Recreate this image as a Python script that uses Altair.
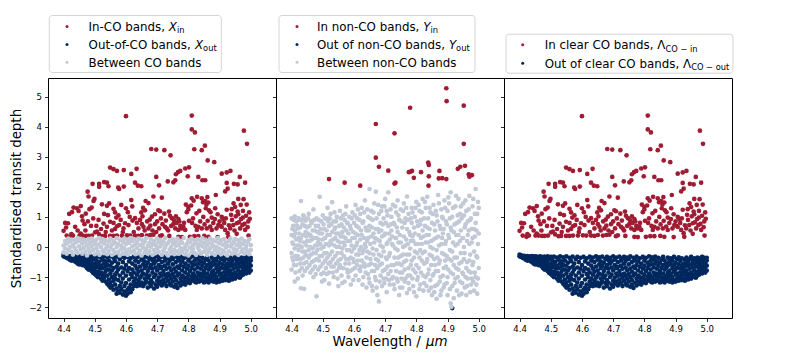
import altair as alt
import pandas as pd

RED = "#a01c33"
NAVY = "#00285e"
GRAY = "#c1c9d7"
FONT = "DejaVu Sans"

# ---------------- data (wavelength in micron, standardised depth) ----------------
# In-CO bands (shared by panel 1 and panel 3)
in_co = [
    (4.600, 4.35), (4.811, 4.37), (4.811, 3.91), (4.821, 3.81), (4.978, 3.87), (4.988, 3.43),
    (4.681, 3.26), (4.697, 3.24), (4.723, 3.22), (4.743, 3.05), (4.819, 3.25), (4.843, 3.22),
    (4.853, 3.37), (4.862, 2.88), (4.883, 2.82),
    (4.549, 2.64), (4.560, 2.59), (4.571, 2.53), (4.593, 2.56), (4.617, 2.43), (4.634, 2.60),
    (4.697, 2.33), (4.774, 2.53), (4.767, 2.49), (4.760, 2.42), (4.790, 2.61), (4.802, 2.65),
    (4.798, 2.35), (4.832, 2.33), (4.845, 2.22), (4.854, 2.22), (4.907, 2.44), (4.923, 2.48),
    (4.935, 2.53), (4.965, 2.33), (4.982, 2.14), (4.946, 2.10), (4.958, 2.08),
    (4.493, 2.10), (4.514, 2.10), (4.514, 2.00), (4.530, 2.16), (4.539, 2.14), (4.544, 2.02),
    (4.477, 1.84), (4.480, 1.68), (4.578, 1.93), (4.593, 2.01), (4.575, 1.98),
    (4.629, 2.14), (4.638, 2.04), (4.649, 2.02), (4.706, 2.05), (4.734, 2.18), (4.752, 2.15),
    (4.758, 2.22), (4.923, 2.13), (4.926, 1.94), (4.918, 1.85),
    (4.811, 1.62), (4.861, 1.66), (4.888, 1.73), (4.854, 1.53), (4.960, 1.60), (4.977, 1.59),
    (4.987, 1.41), (4.499, 1.60), (4.496, 1.53), (4.523, 1.42), (4.539, 1.37), (4.546, 1.45),
    (4.443, 1.29), (4.455, 1.36), (4.448, 1.20), (4.483, 1.26), (4.490, 1.31), (4.471, 1.11),
    (4.459, 1.02), (4.560, 1.27), (4.565, 1.15), (4.576, 1.05), (4.569, 0.98),
    (4.600, 1.29), (4.606, 1.16), (4.617, 1.56), (4.663, 1.53), (4.672, 1.46), (4.661, 1.22),
    (4.649, 1.15), (4.653, 1.02), (4.688, 1.68), (4.715, 1.64), (4.704, 1.22), (4.709, 1.19),
    (4.693, 1.09), (4.683, 1.01), (4.676, 0.91), (4.723, 1.11), (4.738, 1.18), (4.741, 1.04),
    (4.747, 0.96), (4.754, 0.89), (4.768, 0.93), (4.771, 0.85), (4.792, 1.41), (4.800, 1.34),
    (4.800, 1.25), (4.795, 1.16), (4.802, 0.87), (4.858, 1.41), (4.864, 1.48), (4.856, 1.29),
    (4.866, 1.22), (4.871, 1.16), (4.875, 0.98), (4.862, 0.87), (4.886, 1.29), (4.894, 1.09),
    (4.907, 1.00), (4.912, 0.93), (4.923, 1.24), (4.939, 1.26), (4.950, 1.33), (4.960, 1.09),
    (4.969, 0.93), (4.985, 1.04), (4.997, 0.94), (4.992, 0.85),
    (4.400, 0.54), (4.408, 0.65), (4.414, 0.79), (4.418, 1.10), (4.427, 1.16), (4.432, 1.31),
    (4.437, 0.67), (4.461, 0.88), (4.467, 0.76), (4.809, 1.38), (4.817, 1.54), (4.828, 1.67),
    (4.843, 1.62), (4.847, 1.49),
    (4.422, 0.34), (4.425, 0.43), (4.451, 0.38), (4.461, 0.38), (4.472, 0.37), (4.480, 0.37),
    (4.491, 0.38), (4.501, 0.49), (4.507, 0.51), (4.514, 0.42), (4.525, 0.36), (4.533, 0.37),
    (4.539, 0.67), (4.549, 0.84), (4.542, 1.06), (4.560, 0.80), (4.571, 0.69), (4.578, 0.73),
    (4.549, 0.37), (4.560, 0.37), (4.571, 0.38), (4.587, 0.38), (4.603, 0.39), (4.614, 0.38),
    (4.629, 0.38), (4.640, 0.37), (4.651, 0.40), (4.667, 0.38), (4.678, 0.40), (4.688, 0.41),
    (4.709, 0.36), (4.715, 0.39), (4.739, 0.37), (4.768, 0.34), (4.779, 0.33),
    (4.592, 0.62), (4.597, 0.79), (4.608, 0.73), (4.621, 0.88), (4.629, 0.96),
    (4.640, 0.62), (4.651, 0.76), (4.656, 0.67), (4.672, 0.62), (4.678, 0.71),
    (4.693, 0.76), (4.706, 0.62), (4.717, 0.76), (4.725, 0.67), (4.731, 0.62),
    (4.752, 0.76), (4.758, 0.62), (4.768, 0.57), (4.779, 0.62), (4.784, 0.67), (4.790, 0.57),
    (4.827, 0.57), (4.832, 0.67), (4.843, 0.62), (4.859, 0.62), (4.870, 0.68), (4.875, 0.57),
    (4.896, 0.73), (4.907, 0.67), (4.918, 0.57), (4.926, 0.46), (4.934, 0.62), (4.944, 0.73),
    (4.955, 0.79), (4.966, 0.62), (4.973, 0.73), (4.982, 0.57), (4.993, 0.38),
    (4.805, 0.34), (4.819, 0.36), (4.832, 0.36), (4.851, 0.37), (4.864, 0.34), (4.894, 0.33),
    (4.928, 0.34), (4.955, 0.44),
    (4.880, 0.80), (4.885, 0.93), (4.890, 0.62), (4.900, 0.85), (4.903, 0.70), (4.915, 0.80),
    (4.920, 0.95), (4.930, 0.72), (4.940, 0.90), (4.948, 0.55), (4.952, 1.02), (4.962, 0.82),
    (4.975, 0.98), (4.980, 0.77), (4.990, 0.66), (4.995, 1.15), (4.937, 1.07), (4.958, 1.18),
    (4.968, 1.40), (4.945, 1.45), (4.975, 1.20),
    (4.812, 0.80), (4.815, 0.95), (4.823, 0.70), (4.838, 0.85), (4.848, 1.00), (4.852, 0.75),
    (4.826, 1.12), (4.835, 1.20),
    (4.700, 0.85), (4.712, 0.95), (4.728, 0.88), (4.735, 0.55), (4.745, 0.70), (4.762, 0.80),
    (4.774, 0.70), (4.786, 0.80), (4.760, 1.02),
    (4.612, 1.00), (4.625, 0.50), (4.635, 0.80), (4.645, 0.90), (4.660, 0.55), (4.668, 0.85),
    (4.685, 0.55), (4.697, 0.50), (4.620, 1.35), (4.655, 1.30),
    (4.505, 0.70), (4.512, 0.90), (4.520, 0.60), (4.528, 0.78), (4.535, 0.50), (4.555, 0.55),
    (4.565, 0.60), (4.583, 0.90), (4.590, 0.50), (4.530, 1.10), (4.585, 1.40),
    (4.405, 0.80), (4.430, 0.38), (4.445, 0.55), (4.455, 0.45), (4.470, 0.55), (4.478, 0.85),
    (4.488, 0.70), (4.495, 0.95), (4.410, 0.38),
]

# Out-of-CO bands (shared by panel 1 and panel 3): (wavelength, [depths])
out_co = [
    (4.400, [-0.25, -0.31]), (4.405, [-0.28, -0.33]), (4.410, [-0.30, -0.36]),
    (4.415, [-0.29, -0.38, -0.33]), (4.420, [-0.31, -0.42]), (4.425, [-0.30, -0.36, -0.45]),
    (4.430, [-0.33, -0.41]), (4.435, [-0.31, -0.47, -0.38]), (4.440, [-0.35, -0.50, -0.30]),
    (4.445, [-0.42, -0.33, -0.55]), (4.450, [-0.31, -0.47, -0.58]), (4.455, [-0.37, -0.52, -0.32]),
    (4.460, [-0.44, -0.60, -0.34]), (4.465, [-0.31, -0.55, -0.48]), (4.470, [-0.39, -0.64, -0.33]),
    (4.475, [-0.46, -0.58, -0.70]), (4.480, [-0.32, -0.52, -0.75, -0.41]),
    (4.485, [-0.62, -0.36, -0.70]), (4.490, [-0.45, -0.80, -0.31, -0.58]),
    (4.495, [-0.68, -0.38, -0.86]), (4.500, [-0.33, -0.55, -0.77, -0.90]),
    (4.505, [-0.44, -0.66, -0.95]), (4.510, [-0.32, -0.83, -0.58, -1.00]),
    (4.515, [-0.49, -0.72, -0.90]), (4.520, [-0.35, -0.62, -1.05, -0.85]),
    (4.525, [-0.42, -0.95, -0.70, -1.12]), (4.530, [-0.31, -0.55, -0.88, -1.02]),
    (4.535, [-0.66, -0.48, -1.15, -0.80]), (4.540, [-0.34, -0.95, -0.60, -1.22]),
    (4.545, [-0.75, -0.45, -1.08, -1.28]), (4.550, [-0.31, -0.88, -0.62, -1.18, -1.35]),
    (4.555, [-0.52, -1.00, -0.78, -1.30]), (4.560, [-0.36, -1.12, -0.70, -1.42]),
    (4.565, [-0.92, -0.47, -1.25, -1.05]), (4.570, [-0.32, -0.65, -1.38, -0.85, -1.55]),
    (4.575, [-0.55, -1.10, -1.48, -0.75]), (4.580, [-0.40, -0.95, -1.30, -1.52]),
    (4.585, [-0.68, -1.18, -0.33, -1.40]), (4.590, [-0.50, -0.85, -1.05, -1.58]),
    (4.595, [-0.36, -0.72, -1.30, -1.48]), (4.600, [-0.60, -0.95, -1.20, -1.62]),
    (4.605, [-0.33, -0.80, -1.42, -1.55]), (4.610, [-0.48, -1.08, -0.70, -1.35]),
    (4.615, [-0.90, -0.38, -1.25, -1.50]), (4.620, [-0.55, -1.00, -0.75, -1.40]),
    (4.625, [-0.32, -0.85, -1.15, -1.30]), (4.630, [-0.62, -1.05, -0.45, -1.22]),
    (4.635, [-0.92, -0.35, -1.30, -0.72]), (4.640, [-0.50, -1.12, -0.82, -1.20]),
    (4.645, [-0.31, -0.65, -1.02, -1.28]), (4.650, [-0.78, -0.42, -1.18, -0.95]),
    (4.655, [-0.58, -1.30, -0.88, -0.34]), (4.660, [-1.05, -0.70, -0.48, -1.22]),
    (4.665, [-0.32, -0.92, -1.15, -0.62]), (4.670, [-0.80, -1.35, -0.52, -1.02]),
    (4.675, [-0.40, -1.20, -0.70, -0.95]), (4.680, [-1.10, -0.60, -0.33, -1.30]),
    (4.685, [-0.85, -0.45, -1.18, -0.72]), (4.690, [-0.55, -1.00, -1.38, -0.36]),
    (4.695, [-0.92, -0.68, -1.25, -0.48]), (4.700, [-0.31, -0.78, -1.12, -1.32]),
    (4.705, [-0.60, -1.02, -0.42, -1.22]), (4.710, [-0.88, -0.35, -1.15, -0.70]),
    (4.715, [-0.50, -1.28, -0.95, -0.66]), (4.720, [-0.32, -0.80, -1.08, -1.22]),
    (4.725, [-0.62, -1.18, -0.45, -0.92]), (4.730, [-1.02, -0.72, -0.38, -1.30]),
    (4.735, [-0.55, -0.88, -1.12, -0.33]), (4.740, [-0.68, -1.22, -0.95, -0.46]),
    (4.745, [-0.35, -1.05, -0.78, -1.28]), (4.750, [-0.58, -0.90, -1.15, -0.40]),
    (4.755, [-0.72, -1.32, -1.00, -0.31]), (4.760, [-0.50, -1.10, -0.82, -1.25]),
    (4.765, [-0.36, -0.95, -0.65, -1.36]), (4.770, [-0.88, -1.18, -0.45, -0.70]),
    (4.775, [-0.60, -1.05, -0.32, -1.28]), (4.780, [-0.78, -1.15, -0.48, -0.95]),
    (4.785, [-0.38, -1.00, -0.66, -1.22]), (4.790, [-0.85, -0.55, -1.10, -1.25]),
    (4.795, [-0.33, -0.72, -1.02, -1.18]), (4.800, [-0.62, -0.92, -1.15, -0.45]),
    (4.805, [-0.80, -1.08, -0.36, -1.20]), (4.810, [-0.52, -0.98, -1.12, -0.70]),
    (4.815, [-0.31, -0.88, -1.05, -0.60]), (4.820, [-0.75, -1.15, -0.45, -0.95]),
    (4.825, [-0.58, -1.02, -0.34, -1.18]), (4.830, [-0.85, -1.10, -0.68, -0.42]),
    (4.835, [-0.95, -0.55, -1.15, -0.32]), (4.840, [-0.72, -1.05, -0.48, -0.88]),
    (4.845, [-0.36, -0.98, -1.12, -0.62]), (4.850, [-0.80, -1.18, -0.52, -0.92]),
    (4.855, [-0.42, -1.02, -0.70, -1.15]), (4.860, [-0.88, -0.60, -1.10, -0.33]),
    (4.865, [-0.75, -1.00, -0.45, -1.18]), (4.870, [-0.95, -0.55, -1.12, -0.68]),
    (4.875, [-0.35, -0.85, -1.05, -0.62]), (4.880, [-0.78, -1.15, -0.48, -0.95]),
    (4.885, [-0.58, -1.08, -0.38, -0.88]), (4.890, [-1.00, -0.70, -1.18, -0.45]),
    (4.895, [-0.82, -0.33, -1.10, -0.60]), (4.900, [-0.92, -0.52, -1.15, -0.75]),
    (4.905, [-0.40, -1.05, -0.68, -0.88]), (4.910, [-0.98, -0.58, -1.12, -0.34]),
    (4.915, [-0.72, -1.02, -0.46, -0.85]), (4.920, [-0.95, -0.62, -1.10, -0.38]),
    (4.925, [-0.55, -0.82, -1.05, -0.70]), (4.930, [-0.90, -0.42, -1.12, -0.65]),
    (4.935, [-0.35, -0.78, -1.00, -0.55]), (4.940, [-0.88, -0.62, -1.08, -0.48]),
    (4.945, [-0.72, -0.95, -0.40, -1.02]), (4.950, [-0.58, -0.85, -1.05, -0.33]),
    (4.955, [-0.92, -0.68, -0.46, -1.00]), (4.960, [-0.78, -0.55, -0.98, -0.38]),
    (4.965, [-0.65, -0.90, -0.42, -1.02]), (4.970, [-0.82, -0.52, -0.95, -0.35]),
    (4.975, [-0.70, -0.92, -0.45, -0.60]), (4.980, [-0.85, -0.38, -0.75, -0.55]),
    (4.985, [-0.62, -0.88, -0.33, -0.48]), (4.990, [-0.80, -0.42, -0.68, -0.35]),
    (4.995, [-0.55, -0.75, -0.38, -0.85]), (5.000, [-0.45, -0.62, -0.36, -0.78]),
]

# Between CO bands (panel 1)
between_co = [
    (4.400, [0.05, -0.18]), (4.405, [0.20, -0.05]), (4.410, [-0.22, 0.12]), (4.415, [0.28, -0.10]),
    (4.420, [0.00, 0.18]), (4.425, [-0.15, 0.25]), (4.430, [0.08, -0.25]), (4.435, [0.22, -0.02]),
    (4.440, [-0.12, 0.15]), (4.445, [0.30, -0.20]), (4.450, [0.02, 0.20]), (4.455, [-0.08, 0.27]),
    (4.460, [0.12, -0.22]), (4.465, [-0.02, 0.24]), (4.470, [0.18, -0.15]), (4.475, [0.06, -0.28]),
    (4.480, [0.26, -0.06]), (4.485, [-0.18, 0.14]), (4.490, [0.02, 0.28]), (4.495, [-0.10, 0.20]),
    (4.500, [0.10, -0.24]), (4.505, [0.24, -0.04]), (4.510, [-0.16, 0.08]), (4.515, [0.30, -0.26]),
    (4.520, [0.00, 0.16]), (4.525, [-0.12, 0.26]), (4.530, [0.12, -0.20]), (4.535, [0.22, -0.06]),
    (4.540, [-0.24, 0.04]), (4.545, [0.18, -0.14]), (4.550, [0.28, -0.02]), (4.555, [0.08, -0.26]),
    (4.560, [-0.10, 0.20]), (4.565, [0.14, -0.20]), (4.570, [0.30, 0.00]), (4.575, [-0.16, 0.10]),
    (4.580, [0.24, -0.28]), (4.585, [0.04, -0.08]), (4.590, [0.18, -0.22]), (4.595, [-0.04, 0.28]),
    (4.600, [0.10, -0.16]), (4.605, [0.22, -0.26]), (4.610, [-0.08, 0.14]), (4.615, [0.30, -0.18]),
    (4.620, [0.02, 0.20]), (4.625, [-0.12, 0.26]), (4.630, [0.08, -0.24]), (4.635, [0.16, -0.04]),
    (4.640, [-0.20, 0.28]), (4.645, [0.06, -0.12]), (4.650, [0.24, -0.28]), (4.655, [-0.02, 0.12]),
    (4.660, [0.18, -0.18]), (4.665, [0.30, -0.08]), (4.670, [-0.22, 0.04]), (4.675, [0.14, -0.14]),
    (4.680, [0.26, 0.00]), (4.685, [-0.26, 0.10]), (4.690, [0.20, -0.10]), (4.695, [0.06, -0.20]),
    (4.700, [0.28, -0.04]), (4.705, [-0.16, 0.16]), (4.710, [0.02, 0.24]), (4.715, [-0.26, 0.10]),
    (4.720, [0.18, -0.12]), (4.725, [0.30, -0.02]), (4.730, [-0.20, 0.08]), (4.735, [0.14, -0.28]),
    (4.740, [0.22, -0.08]), (4.745, [0.00, -0.18]), (4.750, [0.26, 0.12]), (4.755, [-0.10, -0.24]),
    (4.760, [0.18, 0.04]), (4.765, [-0.14, 0.28]), (4.770, [0.08, -0.22]), (4.775, [-0.04, 0.20]),
    (4.780, [0.14, -0.16]), (4.785, [0.30, -0.06]), (4.790, [-0.24, 0.02]), (4.795, [0.10, -0.12]),
    (4.800, [0.22, -0.28]), (4.805, [-0.02, 0.16]), (4.810, [0.28, -0.18]), (4.815, [0.06, -0.08]),
    (4.820, [-0.20, 0.20]), (4.825, [0.12, -0.26]), (4.830, [0.26, -0.02]), (4.835, [-0.12, 0.08]),
    (4.840, [0.18, -0.22]), (4.845, [0.02, 0.30]), (4.850, [-0.16, 0.12]), (4.855, [0.24, -0.06]),
    (4.860, [-0.26, 0.06]), (4.865, [0.16, -0.14]), (4.870, [0.28, -0.04]), (4.875, [-0.20, 0.10]),
    (4.880, [0.04, 0.22]), (4.885, [-0.10, -0.26]), (4.890, [0.18, 0.00]), (4.895, [0.30, -0.16]),
    (4.900, [-0.06, 0.12]), (4.905, [0.22, -0.24]), (4.910, [0.08, -0.12]), (4.915, [-0.18, 0.26]),
    (4.920, [0.14, -0.02]), (4.925, [-0.28, 0.04]), (4.930, [0.20, -0.14]), (4.935, [0.02, 0.28]),
    (4.940, [-0.22, 0.10]), (4.945, [0.16, -0.06]), (4.950, [0.26, -0.20]), (4.955, [-0.10, 0.06]),
    (4.960, [0.22, -0.26]), (4.965, [0.00, 0.14]), (4.970, [-0.16, 0.28]), (4.975, [0.10, -0.08]),
    (4.980, [0.20, -0.22]), (4.985, [-0.04, 0.04]), (4.990, [0.16, -0.14]), (4.995, [-0.24, 0.26]),
    (5.000, [0.06, -0.10]),
]

# In non-CO bands (panel 2)
in_nonco = [
    (4.520, 2.26), (4.570, 2.14), (4.620, 2.04), (4.670, 4.09), (4.670, 2.97), (4.680, 2.67),
    (4.710, 2.54), (4.730, 3.78), (4.730, 2.11), (4.733, 2.14), (4.780, 4.63), (4.776, 2.49),
    (4.782, 2.51), (4.786, 2.53), (4.792, 2.30), (4.815, 2.49), (4.838, 2.81), (4.840, 2.73),
    (4.840, 2.35), (4.839, 2.04), (4.874, 2.53), (4.872, 2.28), (4.883, 2.29), (4.896, 2.26),
    (4.896, 5.28), (4.897, 4.85), (4.933, 2.60), (4.941, 2.67), (4.956, 2.70), (4.952, 4.70),
    (4.952, 3.43), (4.968, 2.42), (4.970, 2.34), (4.978, 2.39),
]

# Out of non-CO bands (panel 2)
out_nonco = [(4.915, [-2.03])]

# Between non-CO bands (panel 2)
between_nonco = [
    (4.400, [0.95, 0.40, -0.20, -0.75]), (4.405, [0.70, 0.10, -0.45]),
    (4.410, [1.02, -0.05, -1.15, 0.55]), (4.415, [0.25, -0.60, 0.85]),
    (4.420, [0.62, -0.30, -1.05]), (4.425, [0.90, 0.05, -0.80, 0.45]),
    (4.430, [1.53, 0.30, -0.40, -1.37]), (4.435, [0.75, -0.15, -0.95]),
    (4.440, [1.00, 0.15, -0.55, -1.39]), (4.445, [0.50, -0.25, 0.88]),
    (4.450, [0.20, -0.70, 0.65]), (4.455, [1.10, -0.10, -0.35]),
    (4.460, [0.40, -0.85, 0.00]), (4.465, [0.80, 0.25, -0.50]),
    (4.470, [1.25, -0.20, -1.00]), (4.475, [0.55, 0.05, -0.65]),
    (4.480, [0.95, -0.40, -1.64, 0.30]), (4.485, [0.15, -0.75, 0.70]),
    (4.490, [1.67, 0.45, -0.30]), (4.495, [0.85, -0.05, -0.90]),
    (4.500, [0.25, -0.55, 1.05]), (4.505, [0.60, -0.20, -1.10]),
    (4.510, [0.95, 0.10, -0.70]), (4.515, [1.30, -0.35, 0.40]),
    (4.520, [0.70, -0.85, -1.22, 0.05]), (4.525, [0.20, -0.50, 1.10]),
    (4.530, [1.49, 0.50, -0.15]), (4.535, [0.85, -0.65, -1.00]),
    (4.540, [0.30, -0.30, 0.65]), (4.545, [1.00, 0.00, -0.80]),
    (4.550, [0.45, -0.45, -1.30]), (4.555, [1.20, 0.15, -0.60]),
    (4.560, [0.75, -0.20, -0.95]), (4.565, [0.35, -0.70, 1.05]),
    (4.570, [0.90, 0.05, -1.15]), (4.575, [1.35, 0.55, -0.40]),
    (4.580, [0.20, -0.85, 0.80]), (4.585, [1.00, -0.10, -0.55]),
    (4.590, [0.60, -0.35, -1.25]), (4.595, [1.15, 0.30, -0.75]),
    (4.600, [0.80, -0.05, -0.50]), (4.605, [1.40, 0.45, -0.95]),
    (4.610, [0.15, -0.60, 0.95]), (4.615, [0.65, -0.25, -1.10]),
    (4.620, [1.10, 0.25, -0.80]), (4.625, [0.40, -0.45, 1.30]),
    (4.630, [0.85, -0.10, -1.00]), (4.635, [1.55, 0.10, -0.65]),
    (4.640, [0.55, -0.35, -1.35]), (4.645, [1.00, 0.30, -0.90]),
    (4.650, [1.93, 0.70, -0.20, -1.20]), (4.655, [0.35, -0.55, 1.20]),
    (4.660, [0.90, -0.05, -1.45]), (4.665, [1.45, 0.15, -0.80]),
    (4.670, [1.84, 0.60, -0.40, -1.10]), (4.675, [0.25, -0.70, -1.60]),
    (4.680, [1.10, -0.25, -1.81, 0.50]), (4.685, [0.80, -0.95, 0.05]),
    (4.690, [1.35, 0.35, -0.55, -1.30]), (4.695, [0.95, -0.15, -1.05]),
    (4.700, [0.45, -0.75, 1.60]), (4.705, [1.20, 0.10, -0.40, -1.50]),
    (4.710, [1.82, 0.70, -0.90]), (4.715, [0.25, -0.20, -1.25]),
    (4.720, [1.00, -0.60, 0.55]), (4.725, [1.40, 0.05, -1.00]),
    (4.730, [0.75, -0.35, -1.40]), (4.735, [1.15, 0.30, -0.80]),
    (4.740, [0.50, -0.10, -1.15, 1.55]), (4.745, [0.90, -0.55, -1.60]),
    (4.750, [1.25, 0.15, -0.30]), (4.755, [0.65, -0.85, -1.35]),
    (4.760, [1.45, 0.35, -0.50]), (4.765, [0.05, -1.05, 0.95]),
    (4.770, [1.68, 0.60, -0.25, -1.53]), (4.775, [1.10, -0.70, -1.20]),
    (4.780, [0.40, -0.05, -0.95]), (4.785, [1.30, 0.80, -0.45]),
    (4.790, [0.20, -1.30, -0.75]), (4.795, [1.00, 0.45, -0.15]),
    (4.800, [1.50, -0.60, -1.64]), (4.805, [0.70, 0.10, -1.00]),
    (4.810, [1.20, -0.35, -1.40]), (4.815, [0.30, -0.85, 0.90]),
    (4.820, [1.60, 0.55, -0.20]), (4.825, [0.95, -0.55, -1.20]),
    (4.830, [0.15, -1.00, 1.30]), (4.835, [1.67, 0.65, -0.40]),
    (4.840, [0.40, -0.75, -1.45]), (4.845, [1.15, 0.00, -1.10]),
    (4.850, [0.80, -0.30, -1.60]), (4.855, [1.40, 0.25, -0.90]),
    (4.860, [0.55, -0.60, -1.30]), (4.865, [1.05, -0.10, -1.72]),
    (4.870, [1.73, 0.35, -0.80]), (4.875, [0.70, -0.45, -1.15]),
    (4.880, [1.25, 0.10, -1.45]), (4.885, [0.45, -0.95, 0.95]),
    (4.890, [1.55, -0.25, -1.25]), (4.895, [0.85, 0.20, -0.65]),
    (4.900, [1.20, -1.00, -1.60]), (4.905, [0.30, -0.40, 1.45]),
    (4.910, [1.82, 0.65, -0.85, -1.87]), (4.915, [1.00, -0.15, -1.30]),
    (4.920, [0.50, -0.60, -1.70]), (4.925, [1.35, 0.05, -1.05]),
    (4.930, [0.80, -0.35, -1.45]), (4.935, [1.60, 0.40, -0.75]),
    (4.940, [0.20, -1.15, 1.10]), (4.945, [0.95, -0.50, -1.55]),
    (4.950, [1.45, 0.30, -0.90]), (4.955, [0.65, -0.20, -1.35]),
    (4.960, [1.20, -0.70, -1.60]), (4.965, [0.40, 0.85, -1.05]),
    (4.970, [1.70, 0.10, -0.45]), (4.975, [0.95, -0.85, -1.25]),
    (4.980, [1.35, 0.30, -0.60]), (4.985, [0.60, -0.15, -1.45]),
    (4.990, [1.93, 0.80, -1.00]), (4.995, [1.10, -0.35, -1.55]),
    (5.000, [0.45, -0.70, 1.30]),
    (4.4025, [0.60, -0.35, 0.15]), (4.4075, [0.35, -0.60, 0.90]), (4.4125, [-0.30, 0.45, -0.85]),
    (4.4175, [0.05, 0.70, -0.40]), (4.4225, [0.95, -0.10, 0.30]), (4.4275, [-0.55, 0.20, 0.65]),
    (4.4325, [0.00, -0.70, 0.90]), (4.4375, [0.40, -0.35, 1.05]), (4.4425, [0.70, -0.15, -0.80]),
    (4.4475, [0.05, 0.35, -0.50]), (4.4525, [0.95, -0.30, 0.45]), (4.4575, [0.20, -0.60, 0.70]),
    (4.4625, [0.85, -0.25, 0.35]), (4.4675, [-0.05, -0.75, 0.55]), (4.4725, [0.30, 0.90, -0.45]),
    (4.4775, [-0.20, 0.70, -0.90]), (4.4825, [0.50, -0.10, 0.05]), (4.4875, [0.90, -0.45, 0.25]),
    (4.4925, [0.10, -0.65, 0.60]), (4.4975, [0.45, -0.30, -1.15]), (4.5025, [0.75, 0.00, -0.85]),
    (4.5075, [0.30, -0.45, 0.95]), (4.5125, [-0.20, 0.55, -0.90]), (4.5175, [0.85, 0.10, -0.55]),
    (4.5225, [0.40, -0.25, 0.95]), (4.5275, [-0.65, 0.10, 0.75]), (4.5325, [0.25, -0.40, -0.85]),
    (4.5375, [0.60, 0.05, 1.15]), (4.5425, [-0.55, 0.45, 0.85]), (4.5475, [0.20, -0.20, -1.05]),
    (4.5525, [0.70, -0.70, 0.00]), (4.5575, [0.35, -0.40, 0.95]), (4.5625, [-0.05, 0.50, -1.20]),
    (4.5675, [0.65, -0.30, 0.15]), (4.5725, [1.10, -0.55, 0.30]), (4.5775, [-0.10, 0.80, -0.75]),
    (4.5825, [0.45, -0.40, -1.00]), (4.5875, [0.20, 0.70, -0.80]), (4.5925, [0.95, -0.15, 0.05]),
    (4.5975, [-0.40, 0.50, -1.10]), (4.6025, [0.30, -0.70, 1.05]), (4.6075, [0.70, -0.25, 0.05]),
    (4.6125, [1.25, -0.45, 0.40]), (4.6175, [-0.10, 0.90, -0.75]), (4.6225, [0.55, -0.65, 0.00]),
    (4.6275, [0.80, -0.20, -1.25]), (4.6325, [0.30, -0.55, 1.15]), (4.6375, [-0.85, 0.65, 0.00]),
    (4.6425, [0.20, -0.15, 1.25]), (4.6475, [-0.60, 0.55, -1.05]), (4.6525, [0.10, 0.95, -0.40]),
    (4.6575, [-0.80, 0.65, -1.30]), (4.6625, [0.45, -0.25, 1.15]), (4.6675, [-0.60, 0.30, -1.00]),
    (4.6725, [0.95, -0.10, -1.35]), (4.6775, [0.60, -0.45, 1.40]), (4.6825, [-0.60, 0.20, -1.15]),
    (4.6875, [1.20, -0.30, 0.55]), (4.6925, [0.00, -0.80, 0.75]), (4.6975, [-1.20, 0.40, 1.35]),
    (4.7025, [0.80, -0.35, -1.05]), (4.7075, [0.15, -0.65, 1.05]), (4.7125, [-1.10, 0.45, -0.30]),
    (4.7175, [0.75, -0.80, 1.25]), (4.7225, [0.10, -1.05, 0.35]), (4.7275, [-0.60, 0.80, -1.25]),
    (4.7325, [0.30, -0.05, 1.35]), (4.7375, [-0.55, 0.65, -1.05]), (4.7425, [0.15, 1.05, -0.35]),
    (4.7475, [-0.85, 0.40, -1.35]), (4.7525, [0.85, -0.60, -1.05]), (4.7575, [0.00, 1.20, -0.25]),
    (4.7625, [-0.75, 0.80, -1.15]), (4.7675, [0.25, -0.45, 1.30]), (4.7725, [-0.95, 0.10, 0.90]),
    (4.7775, [0.50, -0.25, -1.40]), (4.7825, [0.95, -0.60, 0.20]), (4.7875, [-1.05, 0.35, 1.15]),
    (4.7925, [0.65, -0.35, -1.50]), (4.7975, [0.10, -0.85, 1.30]), (4.8025, [0.85, -0.20, -1.10]),
    (4.8075, [0.40, -0.70, 1.40]), (4.8125, [-0.10, 0.75, -1.25]), (4.8175, [1.15, -0.45, 0.10]),
    (4.8225, [0.35, -0.95, -1.45]), (4.8275, [0.70, -0.15, 1.50]), (4.8325, [-0.50, 0.40, -1.30]),
    (4.8375, [0.95, -0.90, 0.15]), (4.8425, [-0.25, 0.60, 1.30]), (4.8475, [0.20, -0.60, -1.35]),
    (4.8525, [1.10, -0.05, -0.95]), (4.8575, [-0.40, 0.75, -1.50]), (4.8625, [0.30, -0.80, 1.20]),
    (4.8675, [0.85, -0.35, -1.25]), (4.8725, [-0.55, 0.05, 1.45]), (4.8775, [0.60, -1.00, -1.60]),
    (4.8825, [1.00, -0.20, 0.30]), (4.8875, [-0.70, 0.60, -1.35]), (4.8925, [0.10, -0.45, 1.30]),
    (4.8975, [0.75, -1.20, -0.30]), (4.9025, [0.40, -0.75, 1.65]), (4.9075, [-0.10, 0.95, -1.40]),
    (4.9125, [-1.99, 0.55, -0.45]), (4.9175, [1.30, -0.90, 0.15]), (4.9225, [0.75, -0.35, -1.20]),
    (4.9275, [-0.70, 0.40, 1.70]), (4.9325, [0.10, -1.00, 1.05]), (4.9375, [0.85, -0.55, -1.60]),
    (4.9425, [-0.20, 0.55, 1.35]), (4.9475, [0.30, -0.85, -1.20]), (4.9525, [1.05, -0.40, 0.00]),
    (4.9575, [-1.00, 0.75, 1.55]), (4.9625, [0.20, -0.50, -1.30]), (4.9675, [1.25, -0.80, 0.55]),
    (4.9725, [-0.25, 0.90, -1.50]), (4.9775, [0.60, -1.05, 0.15]), (4.9825, [1.60, -0.50, -1.15]),
    (4.9875, [0.35, -0.85, 1.10]), (4.9925, [-0.30, 0.55, -1.25]), (4.9975, [1.50, -1.05, 0.10]),
]

x_ticks = [4.4, 4.5, 4.6, 4.7, 4.8, 4.9, 5.0]
y_ticks = [-2, -1, 0, 1, 2, 3, 4, 5]
X_DOMAIN = [4.350, 5.081]
Y_DOMAIN = [-2.36, 5.62]


def from_pairs(pairs, cat):
    return [{"w": w, "d": d, "c": cat} for w, d in pairs]


def from_cols(cols, cat):
    return [{"w": w, "d": d, "c": cat} for w, ds in cols for d in ds]


df1 = pd.DataFrame(from_pairs(in_co, "in") + from_cols(out_co, "out") + from_cols(between_co, "between"))
df2 = pd.DataFrame(from_pairs(in_nonco, "in") + from_cols(out_nonco, "out") + from_cols(between_nonco, "between"))
df3 = pd.DataFrame(from_pairs(in_co, "in") + from_cols(out_co, "out"))

color_scale = alt.Scale(domain=["in", "out", "between"], range=[RED, NAVY, GRAY])

W, H = 228, 240


def scatter(df, show_y_labels):
    xaxis = alt.Axis(values=x_ticks, format=".1f", grid=False, domain=False,
                     tickSize=3.5, tickColor="black", tickWidth=0.8,
                     labelFont=FONT, labelFontSize=8.5, labelColor="black", labelPadding=3,
                     title=None)
    yaxis = alt.Axis(values=y_ticks, format="d", grid=False, domain=False,
                     tickSize=3.5, tickColor="black", tickWidth=0.8,
                     labels=show_y_labels,
                     labelFont=FONT, labelFontSize=8.5, labelColor="black", labelPadding=3,
                     title="Standardised transit depth" if show_y_labels else None,
                     titleFont=FONT, titleFontSize=13.4, titleFontWeight="normal",
                     titleColor="black", titlePadding=5)
    return alt.Chart(df).mark_circle(size=22, opacity=1).encode(
        x=alt.X("w:Q", scale=alt.Scale(domain=X_DOMAIN, nice=False, zero=False), axis=xaxis),
        y=alt.Y("d:Q", scale=alt.Scale(domain=Y_DOMAIN, nice=False, zero=False), axis=yaxis),
        color=alt.Color("c:N", scale=color_scale, legend=None),
    )


# --- hand-drawn legends and mixed-style text (matplotlib mathtext look) ---
ADV = {" ": 651, ",": 651, "-": 739, ".": 651, "I": 604, "n": 1298, "C": 1430, "O": 1612,
       "b": 1300, "a": 1255, "d": 1300, "s": 1067, "u": 1298, "t": 803, "o": 1253, "f": 721,
       "B": 1405, "e": 1260, "w": 1675, "c": 1126, "l": 569, "r": 842, "i": 569, "X": 1401,
       "Y": 1251, "Λ": 1401, "−": 1716, "W": 2025, "v": 1212, "g": 1300, "h": 1298,
       "/": 690, "μ": 1300, "m": 1995}
FS = 11.85
SUB = 8.3
TITLE_FS = 13.4


def text_width(s, fs):
    return sum(ADV.get(ch, 1250) for ch in s) / 2048 * fs


ONE = pd.DataFrame({"k": [0]})


def text_piece(txt, x, y, fs, italic=False):
    return alt.Chart(ONE).mark_text(
        text=txt, align="left", baseline="alphabetic", font=FONT, fontSize=fs,
        fontStyle="italic" if italic else "normal", color="black").encode(
        x=alt.value(x), y=alt.value(y))


def legend_layers(box, marker_x, text_x, rows):
    x1, x2, y1, y2 = box
    layers = [alt.Chart(ONE).mark_rect(fill="white", fillOpacity=0.85, stroke="#d4d4d4",
                                       strokeWidth=1, cornerRadius=3).encode(
        x=alt.value(x1), x2=alt.value(x2), y=alt.value(y1), y2=alt.value(y2))]
    for ry, col, pieces in rows:
        layers.append(alt.Chart(ONE).mark_circle(size=9, opacity=1, color=col).encode(
            x=alt.value(marker_x), y=alt.value(ry)))
        cx = text_x
        for txt, kind in pieces:
            fs = SUB if kind == "s" else FS
            dy = 4.3 + (2.6 if kind == "s" else 0)
            layers.append(text_piece(txt, cx, ry + dy, fs, kind == "i"))
            cx += text_width(txt, fs)
    return layers


def xtitle_layers(center_x, baseline_y):
    main, ital = "Wavelength / ", "μm"
    total = text_width(main, TITLE_FS) + text_width(ital, TITLE_FS)
    x0 = center_x - total / 2
    return [text_piece(main, x0, baseline_y, TITLE_FS),
            text_piece(ital, x0 + text_width(main, TITLE_FS), baseline_y, TITLE_FS, True)]


leg1 = legend_layers((1.3, 173.3, -62.5, -5.5), 19, 40.6, [
    (-51.5, RED, [("In-CO bands, ", "n"), ("X", "i"), ("in", "s")]),
    (-33.6, NAVY, [("Out-of-CO bands, ", "n"), ("X", "i"), ("out", "s")]),
    (-15.8, GRAY, [("Between CO bands", "n")]),
])
leg2 = legend_layers((3, 199, -62.5, -5.5), 21, 41, [
    (-51.5, RED, [("In non-CO bands, ", "n"), ("Y", "i"), ("in", "s")]),
    (-33.6, NAVY, [("Out of non-CO bands, ", "n"), ("Y", "i"), ("out", "s")]),
    (-15.8, GRAY, [("Between non-CO bands", "n")]),
])
leg3 = legend_layers((2, 229, -43.8, -4.8), 18.7, 40.7, [
    (-33.3, RED, [("In clear CO bands, Λ", "n"), ("CO − in", "s")]),
    (-14.8, NAVY, [("Out of clear CO bands, Λ", "n"), ("CO − out", "s")]),
])

p1 = alt.layer(scatter(df1, True), *leg1).properties(width=W, height=H)
p2 = alt.layer(scatter(df2, False), *leg2, *xtitle_layers(W / 2, 268)).properties(width=W, height=H)
p3 = alt.layer(scatter(df3, False), *leg3).properties(width=W, height=H)

chart = alt.hconcat(p1, p2, p3, spacing=0, bounds="flush").properties(
    padding={"left": 1, "top": 6, "right": 5, "bottom": 5}
).configure_view(stroke="black", strokeWidth=1)

chart.save("out.html", embed_options={"renderer": "svg", "actions": False})
